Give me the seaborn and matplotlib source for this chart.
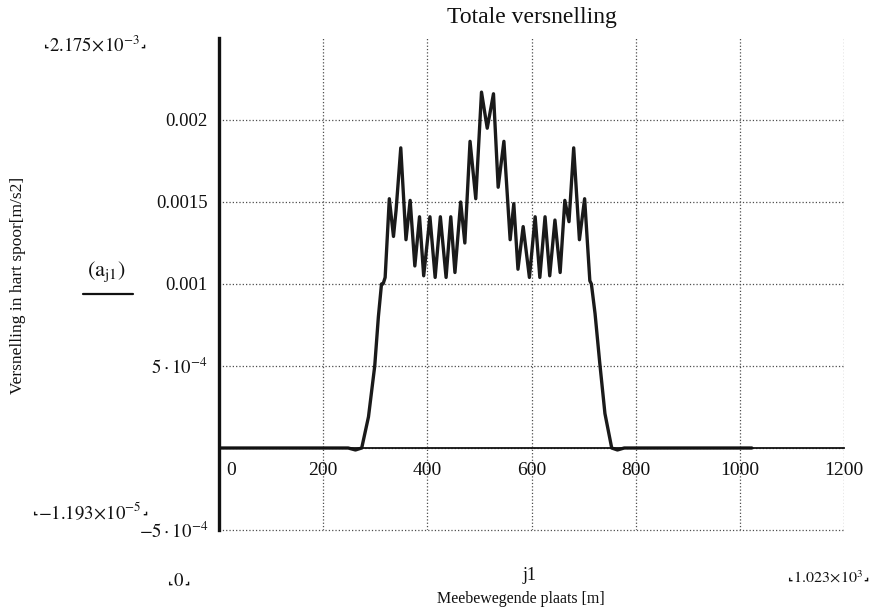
import matplotlib
matplotlib.use("Agg")
import matplotlib.pyplot as plt
from matplotlib.lines import Line2D
from matplotlib.transforms import ScaledTranslation
import seaborn as sns
import pandas as pd

# ---- data ----
pos_m = [0, 248, 262, 274, 287, 299, 306, 312, 315, 319, 327, 335, 340, 349, 359,
         367, 376, 385, 393, 405, 415, 425, 436, 445, 453, 464, 472, 482, 493,
         504, 515, 527, 536, 547, 559, 566, 574, 584, 596, 607, 616, 626, 635,
         645, 655, 664, 672, 681, 692, 702, 712, 715, 722, 731, 741, 754, 765,
         778, 1023]
accel_milli = [0, 0, -0.012, 0, 0.19, 0.50, 0.80, 1.00, 1.00, 1.04, 1.52, 1.29, 1.45,
               1.83, 1.27, 1.51, 1.11, 1.41, 1.05, 1.41, 1.04, 1.41, 1.04, 1.41, 1.07,
               1.50, 1.25, 1.87, 1.52, 2.17, 1.95, 2.16, 1.59, 1.87, 1.27, 1.49, 1.09,
               1.35, 1.04, 1.41, 1.04, 1.41, 1.05, 1.39, 1.07, 1.51, 1.38, 1.83, 1.27,
               1.52, 1.02, 1.00, 0.82, 0.52, 0.21, 0, -0.012, 0, 0]
x_ticks = [0, 200, 400, 600, 800, 1000, 1200]
x_tick_labels = ["0", "200", "400", "600", "800", "1000", "1200"]
y_ticks = [-0.0005, 0.0, 0.0005, 0.001, 0.0015, 0.002]
y_tick_labels = [r"$-5\cdot10^{-4}$", "", r"$5\cdot10^{-4}$", "0.001", "0.0015", "0.002"]

df = pd.DataFrame({"pos": pos_m, "acc": [v * 1e-3 for v in accel_milli]})

sns.set_style("white")
plt.rcParams["font.family"] = ["Liberation Serif", "DejaVu Serif"]
plt.rcParams["mathtext.fontset"] = "stix"

W, H = 873, 612
fig = plt.figure(figsize=(W / 100, H / 100), dpi=100)
fig.patch.set_facecolor("white")

def fx(px):
    return px / W

def fy(py):
    return 1 - py / H

ax = fig.add_axes([fx(219), fy(530), (844 - 219) / W, (530 - 38) / H])
ax.set_facecolor("white")

sns.lineplot(data=df, x="pos", y="acc", ax=ax, color="#1a1a1a", linewidth=2.4,
             sort=False, estimator=None)

ax.set_xlim(0, 1200)
ax.set_ylim(-0.0005, 0.0025)
ax.set_xticks(x_ticks)
ax.set_xticklabels(x_tick_labels)
ax.set_yticks(y_ticks)
ax.set_yticklabels(y_tick_labels)
ax.set_xlabel("")
ax.set_ylabel("")

ax.grid(True, linestyle=":", color="0.3", linewidth=0.9)
for g in ax.get_xgridlines() + ax.get_ygridlines():
    g.set_clip_on(False)

for s in ["top", "right"]:
    ax.spines[s].set_visible(False)
ax.spines["left"].set_linewidth(2.4)
ax.spines["left"].set_color("#111111")
ax.spines["bottom"].set_position(("data", 0))
ax.spines["bottom"].set_linewidth(1.3)
ax.spines["bottom"].set_color("#111111")

ax.tick_params(axis="x", direction="inout", length=12, width=2, labelsize=14,
               pad=4, colors="#111111")
ax.tick_params(axis="y", direction="inout", length=12, width=2, labelsize=13.5,
               pad=2, colors="#111111")
xl = ax.get_xticklabels()
xl[0].set_horizontalalignment("left")
xl[0].set_transform(xl[0].get_transform() + ScaledTranslation(5 / 72, 0, fig.dpi_scale_trans))

# ---- Mathcad-style surrounding texts ----
tc = "#111111"
fig.text(fx(532), fy(17), "Totale versnelling", ha="center", va="center",
         fontsize=17, color=tc)
fig.text(fx(18), fy(285), "Versnelling in hart spoor[m/s2]", rotation=90,
         ha="center", va="center", fontsize=12.5, color=tc)
fig.text(fx(107), fy(272), r"$(\mathrm{a}_{\mathrm{j1}})$", ha="center", va="center",
         fontsize=16, color=tc)
fig.add_artist(Line2D([fx(83), fx(133)], [fy(294), fy(294)], color=tc, linewidth=1.6))

corner_kw = dict(family=["DejaVu Sans"], fontsize=8, color=tc, va="center",
                 fontweight="bold")
renderer = fig.canvas.get_renderer()

def limit_text(x_left, y, s, size):
    fig.text(fx(x_left), fy(y - 1), "\u231e", ha="left", **corner_kw)
    t = fig.text(fx(x_left + 6), fy(y), s, ha="left", va="center", fontsize=size,
                 color=tc)
    bb = t.get_window_extent(renderer=renderer)
    fig.text(fx(bb.x1 + 0.5), fy(y - 1), "\u231f", ha="left", **corner_kw)

def limit_text_right(x_right, y, s, size):
    c = fig.text(fx(x_right), fy(y - 1), "\u231f", ha="right", **corner_kw)
    cb = c.get_window_extent(renderer=renderer)
    t = fig.text(fx(cb.x0 - 0.5), fy(y), s, ha="right", va="center", fontsize=size,
                 color=tc)
    bb = t.get_window_extent(renderer=renderer)
    fig.text(fx(bb.x0 - 0.5), fy(y - 1), "\u231e", ha="right", **corner_kw)

limit_text(43, 45, r"$2.175\!\times\!10^{-3}$", 13.5)
limit_text(32, 512, r"$-1.193\!\times\!10^{-5}$", 13.5)
limit_text(167, 582, r"$0$", 13.5)
limit_text_right(869, 578, r"$1.023\!\times\!10^{3}$", 11.5)

fig.text(fx(530), fy(576), "j1", ha="center", va="center", fontsize=13, color=tc)
fig.text(fx(521), fy(599), "Meebewegende plaats [m]", ha="center", va="center",
         fontsize=11.5, color=tc)

fig.savefig("out.png", dpi=100, facecolor="white")
